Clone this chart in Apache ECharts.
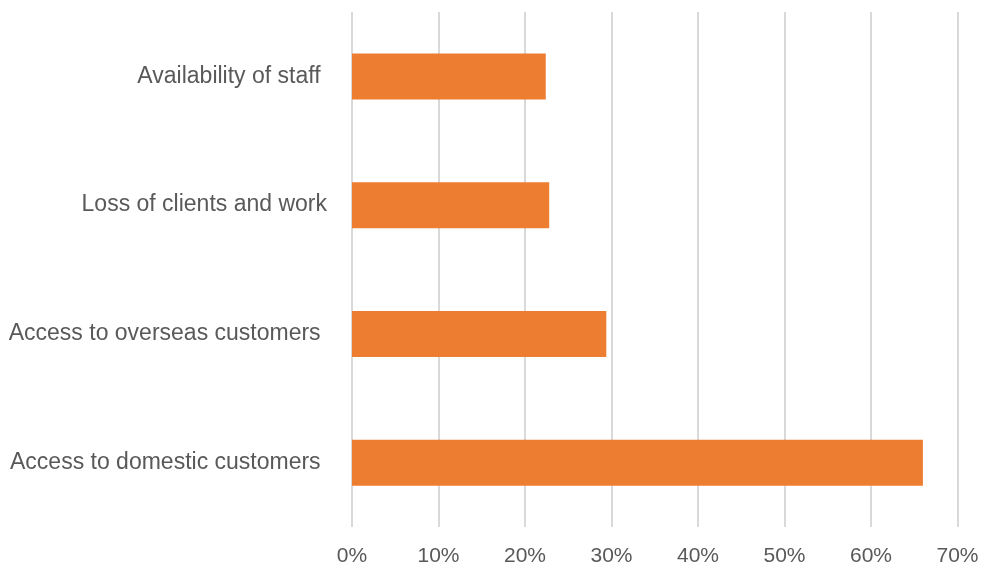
<!DOCTYPE html>
<html>
<head>
<meta charset="utf-8">
<script src="https://cdn.jsdelivr.net/npm/echarts@6/dist/echarts.min.js"></script>
<style>
html,body{margin:0;padding:0;background:#fff;}
#c{width:984px;height:571px;}
</style>
</head>
<body>
<div id="c"></div>
<script>
const categories = ['Availability of staff ', 'Loss of clients and work', 'Access to overseas customers ', 'Access to domestic customers '];
const values = [22.4, 22.8, 29.4, 66.0];
const xTicks = [0, 10, 20, 30, 40, 50, 60, 70];

const chart = echarts.init(document.getElementById('c'), null, {renderer: 'canvas'});
chart.setOption({
  animation: false,
  backgroundColor: '#ffffff',
  grid: {left: 352, right: 26.5, top: 12, bottom: 44, containLabel: false},
  xAxis: {
    type: 'value',
    min: xTicks[0],
    max: xTicks[xTicks.length - 1],
    interval: 10,
    axisLine: {show: false},
    axisTick: {show: false},
    splitLine: {show: true, lineStyle: {color: '#d9d9d9', width: 2}},
    axisLabel: {
      color: '#595959',
      fontFamily: 'Liberation Sans',
      fontSize: 21,
      margin: 19,
      formatter: v => v + '%'
    }
  },
  yAxis: {
    type: 'category',
    data: categories,
    inverse: true,
    axisLine: {show: false},
    axisTick: {show: false},
    splitLine: {show: false},
    axisLabel: {
      color: '#595959',
      fontFamily: 'Liberation Sans',
      fontSize: 23,
      margin: 25
    }
  },
  series: [{
    type: 'bar',
    data: values,
    barWidth: 46,
    itemStyle: {color: '#ED7D31'}
  }]
});
</script>
</body>
</html>
